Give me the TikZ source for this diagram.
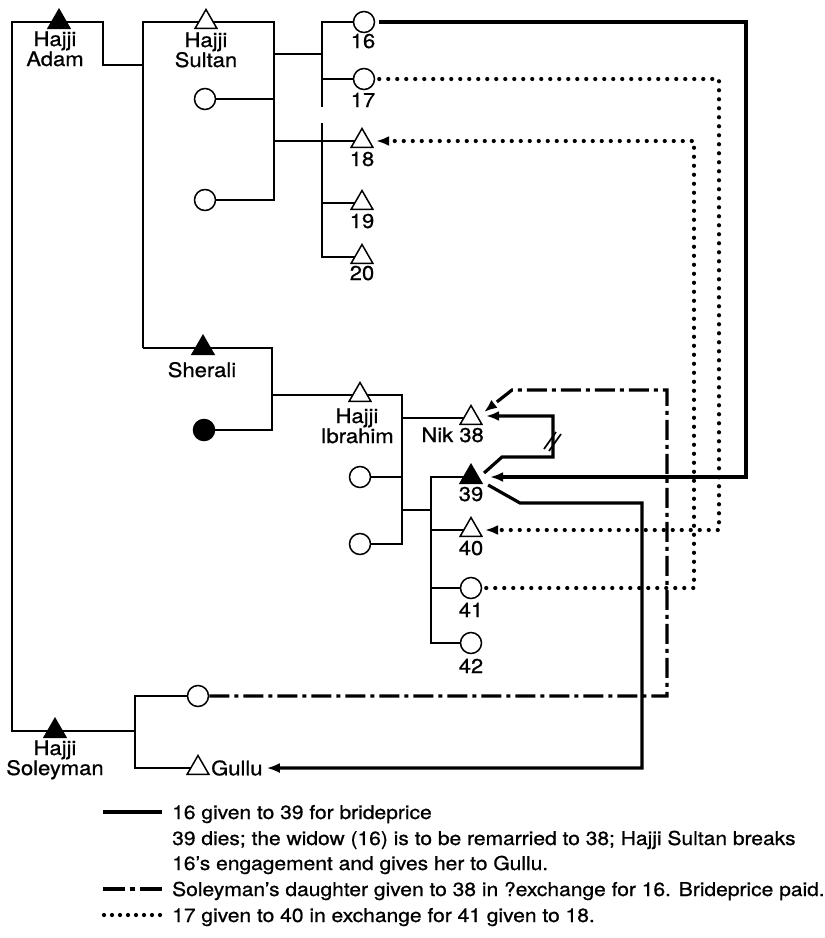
\documentclass[tikz,border=0pt]{standalone}
\usepackage{fontspec}
\setmainfont[FakeStretch=1.1,FakeBold=0.8]{TeX Gyre Heros}
\usepackage{tikz}
\usetikzlibrary{shapes.geometric}
\usetikzlibrary{arrows.meta}
\pgfdeclarelayer{bg}
\pgfsetlayers{bg,main}
\tikzstyle{male}=[regular polygon, regular polygon sides=3, draw=black, fill=white, line width=1.5pt, minimum size=25pt, inner sep=0pt]
\tikzstyle{dmale}=[male, fill=black]
\tikzstyle{female}=[circle, draw=black, fill=white, line width=1.5pt, minimum size=21pt, inner sep=0pt]
\tikzstyle{dfemale}=[female, fill=black]
\tikzstyle{lbl}=[font=\fontsize{20}{20}\selectfont, inner sep=0pt, align=center, anchor=base]
\tikzstyle{legtext}=[font=\fontsize{19.1}{26}\selectfont, inner sep=0pt, anchor=base west]
\tikzstyle{kin}=[line width=1.7pt]
\tikzstyle{gift}=[line width=3.2pt]
\tikzstyle{dashdot}=[line width=3.2pt, dash pattern=on 20pt off 5pt on 4pt off 5pt]
\tikzstyle{dots}=[line width=4.2pt, line cap=round, dash pattern=on 0pt off 9pt]
\tikzstyle{arr}=[-{Latex[length=13pt,width=10pt]}]

\begin{document}
\begin{tikzpicture}[x=1pt, y=-1pt]
    \useasboundingbox (0,0) rectangle (825,938);

    %people
    \node[dmale] (adam) at (59,22) {};
    \node[male] (sultan) at (206,22) {};
    \node[female] (sw1) at (205,99) {};
    \node[female] (sw2) at (205,200) {};
    \foreach \n/\y in {16/22,17/79} {\node[female] (p\n) at (364,\y) {};}
    \foreach \n/\y in {18/141,19/203,20/257} {\node[male] (p\n) at (362,\y) {};}
    \node[dmale] (sherali) at (203,348) {};
    \node[dfemale] (shw) at (204,430) {};
    \node[male] (ibrahim) at (360,395) {};
    \node[female] (iw1) at (360,477) {};
    \node[female] (iw2) at (360,544) {};
    \node[male] (p38) at (471,418) {};
    \node[dmale] (p39) at (471,477) {};
    \node[male] (p40) at (471,530) {};
    \foreach \n/\y in {41/588,42/643} {\node[female] (p\n) at (471,\y) {};}
    \node[dmale] (soleyman) at (55,731) {};
    \node[female] (sd) at (198,696) {};
    \node[male] (gullu) at (198,768) {};

    %names
    \node[lbl] (adamlab) at (55,66) {Hajji\\Adam};
    \node[lbl] (sultanlab) at (206,67) {Hajji\\Sultan};
    \node[lbl] (sheralilab) at (202,377) {Sherali};
    \node[lbl] (ibrahimlab) at (357,443) {Hajji\\Ibrahim};
    \node[lbl, anchor=base east] (niklab) at (484,442) {Nik 38};
    \node[lbl] (soleymanlab) at (55,775) {Hajji\\Soleyman};
    \node[lbl, anchor=west] (gullulab) at (211,768) {Gullu};
    \foreach \n/\x/\y in {16/363/48,17/363/107,18/362/166,19/362/228,20/362/280,39/471/501,40/471/555,41/471/617,42/471/673} {
    \node[lbl] (lab\n) at (\x,\y) {\n};
    }

    %kin lines
    \begin{pgfonlayer}{bg}
    \draw[kin] (soleyman.center) -| (12,22) -| (103,65) -- (143,65);
    \draw[kin] (143,348) -- (143,22) -| (274,200) -- (sw2.center);
    \draw[kin] (sw1.center) -- (274,99);
    \draw[kin] (274,54) -- (322,54);
    \draw[kin] (p16.center) -| (322,107);
    \draw[kin] (p17.center) -- (322,79);
    \draw[kin] (274,141) -- (p18.center);
    \draw[kin] (322,123) |- (p20.center);
    \draw[kin] (322,203) -- (p19.center);
    \draw[kin] (143,348) -| (272,430) -- (shw.center);
    \draw[kin] (272,395) -| (402,544) -- (iw2.center);
    \draw[kin] (iw1.center) -- (402,477);
    \draw[kin] (402,418) -- (p38.center);
    \draw[kin] (402,510) -- (431,510);
    \draw[kin] (p39.center) -| (431,643) -- (p42.center);
    \draw[kin] (431,530) -- (p40.center);
    \draw[kin] (431,588) -- (p41.center);
    \draw[kin] (soleyman.center) -- (135,731);
    \draw[kin] (sd.center) -| (135,768) -- (gullu.center);
    \end{pgfonlayer}

    %16 to 39, then to Gullu
    \draw[gift,arr] ([xshift=4pt]p16.east) -- (746,22) |- ([xshift=11pt]p39.east);
    \draw[gift,arr] ([xshift=5pt,yshift=-1pt]p39.corner 3) -- (520,503) -| (642,768) -- ([xshift=4pt]gullulab.east);
    \draw[gift,arr] ([xshift=5pt,yshift=4pt]p39.east) -- (502,457) -| (553,416) -- ([xshift=7pt,yshift=2pt]p38.east);
    \draw[kin] (544,449) -- (556,432);
    \draw[kin] (549,451) -- (561,434);

    %daughter to 38
    \draw[dashdot,arr] (sd.east) -- (667,696) |- (512,390) -- ([xshift=5pt,yshift=6pt]p38.east);

    %exchange
    \draw[dots,arr] ([xshift=4pt]p17.east) -- (719,79) |- ([xshift=6pt]p40.east);
    \draw[dots,arr] ([xshift=4pt]p41.east) -- (694,588) |- ([xshift=6pt]p18.east);

    %key
    \draw[gift] (103,812) -- (162,812);
    \draw[dashdot, dash pattern=on 22pt off 5pt on 5pt off 5pt] (103,889) -- (162,889);
    \draw[dots, dash pattern=on 0pt off 8pt] (104,915) -- (160,915);
    \node[legtext] (key1) at (172,819) {16 given to 39 for brideprice};
    \node[legtext] (key2) at (172,845) {39 dies; the widow (16) is to be remarried to 38; Hajji Sultan breaks};
    \node[legtext] (key3) at (172,870) {16’s engagement and gives her to Gullu.};
    \node[legtext] (key4) at (172,896) {Soleyman’s daughter given to 38 in ?exchange for 16. Brideprice paid.};
    \node[legtext] (key5) at (172,922) {17 given to 40 in exchange for 41 given to 18.};

\end{tikzpicture}
\end{document}
